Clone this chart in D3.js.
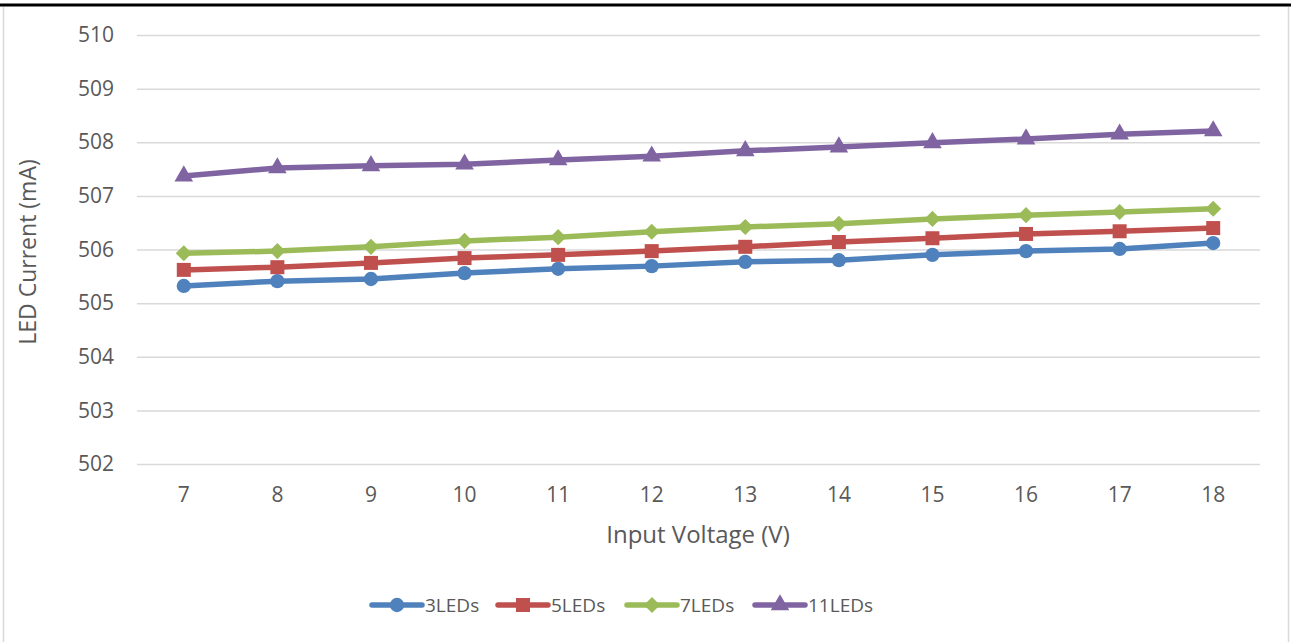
<!DOCTYPE html>
<html>
<head>
<meta charset="utf-8">
<script src="https://cdn.jsdelivr.net/npm/d3@7"></script>
<style>
  html, body { margin: 0; padding: 0; background: #fff; }
  svg { display: block; }
  text { font-family: "Open Sans", "Noto Sans", sans-serif; fill: #595959; }
</style>
</head>
<body>
<svg id="chart" width="1291" height="642"></svg>
<script>
// Input voltage categories (V)
const voltages = [7, 8, 9, 10, 11, 12, 13, 14, 15, 16, 17, 18];

// LED current (mA) per string length
const leds3  = [505.32, 505.41, 505.45, 505.56, 505.64, 505.69, 505.77, 505.80, 505.90, 505.97, 506.01, 506.12];
const leds5  = [505.62, 505.67, 505.75, 505.84, 505.90, 505.97, 506.05, 506.14, 506.21, 506.29, 506.34, 506.40];
const leds7  = [505.93, 505.97, 506.05, 506.16, 506.23, 506.33, 506.42, 506.48, 506.57, 506.64, 506.70, 506.76];
const leds11 = [507.37, 507.52, 507.56, 507.59, 507.67, 507.74, 507.84, 507.91, 507.99, 508.06, 508.15, 508.21];

const seriesNames = ["3LEDs", "5LEDs", "7LEDs", "11LEDs"];
const yTicks = [502, 503, 504, 505, 506, 507, 508, 509, 510];

// diamond drawn as a square turned 45 degrees (equal width and height)
const squareDiamond = {
  draw(context, size) {
    const r = Math.sqrt(size / 2);
    context.moveTo(0, -r);
    context.lineTo(r, 0);
    context.lineTo(0, r);
    context.lineTo(-r, 0);
    context.closePath();
  }
};

const series = [
  { name: seriesNames[0], values: leds3,  color: "#4f81bd", symbol: d3.symbolCircle,   size: 160 },
  { name: seriesNames[1], values: leds5,  color: "#c0504d", symbol: d3.symbolSquare,   size: 196 },
  { name: seriesNames[2], values: leds7,  color: "#9bbb59", symbol: squareDiamond,     size: 130 },
  { name: seriesNames[3], values: leds11, color: "#8064a2", symbol: d3.symbolTriangle, size: 150 }
];

const svg = d3.select("#chart");

// chart frame: heavy top rule, light side borders
svg.append("line").attr("x1", 0).attr("x2", 1291).attr("y1", 5).attr("y2", 5)
  .attr("stroke", "#000").attr("stroke-width", 3);
svg.append("line").attr("x1", 3.5).attr("x2", 3.5).attr("y1", 7).attr("y2", 642)
  .attr("stroke", "#d9d9d9").attr("stroke-width", 1.5);
svg.append("line").attr("x1", 1288.5).attr("x2", 1288.5).attr("y1", 7).attr("y2", 642)
  .attr("stroke", "#d9d9d9").attr("stroke-width", 1.5);

const plot = { left: 137, right: 1260, top: 35, bottom: 464 };

const x = d3.scaleBand().domain(voltages).range([plot.left, plot.right]).padding(0);
const y = d3.scaleLinear().domain([502, 510]).range([plot.bottom, plot.top]);
const cx = v => x(v) + x.bandwidth() / 2;

// horizontal gridlines and y tick labels
const yAxis = d3.axisLeft(y).tickValues(yTicks).tickSize(-(plot.right - plot.left)).tickPadding(23);
const gy = svg.append("g").attr("transform", `translate(${plot.left},0)`).call(yAxis);
gy.select(".domain").remove();
gy.selectAll(".tick line").attr("stroke", "#d9d9d9").attr("stroke-width", 1.5);
gy.selectAll(".tick text").attr("font-size", 21).attr("fill", "#595959")
  .style("font-family", '"Open Sans", sans-serif');

// x tick labels
const xAxis = d3.axisBottom(x).tickSize(0).tickPadding(23);
const gx = svg.append("g").attr("transform", `translate(0,${plot.bottom})`).call(xAxis);
gx.select(".domain").remove();
gx.selectAll(".tick text").attr("font-size", 21).attr("fill", "#595959")
  .style("font-family", '"Open Sans", sans-serif');

// axis titles
svg.append("text").attr("x", 698).attr("y", 543)
  .attr("text-anchor", "middle").attr("font-size", 24).text("Input Voltage (V)");
svg.append("text").attr("transform", "translate(36,252) rotate(-90)")
  .attr("text-anchor", "middle").attr("font-size", 23).text("LED Current (mA)");

// series lines and markers
const line = d3.line().x((d, i) => cx(voltages[i])).y(d => y(d));
series.forEach(s => {
  const g = svg.append("g");
  g.append("path").datum(s.values).attr("d", line)
    .attr("fill", "none").attr("stroke", s.color).attr("stroke-width", 5.5)
    .attr("stroke-linejoin", "round").attr("stroke-linecap", "round");
  g.selectAll("path.m").data(s.values).enter().append("path").attr("class", "m")
    .attr("d", d3.symbol().type(s.symbol).size(s.size))
    .attr("transform", (d, i) => `translate(${cx(voltages[i])},${y(d)})`)
    .attr("fill", s.color);
});

// legend
const legendX = [372, 498, 627, 755];
const legendY = 605;
series.forEach((s, i) => {
  const g = svg.append("g").attr("transform", `translate(${legendX[i]},${legendY})`);
  g.append("line").attr("x1", 0).attr("x2", 50).attr("y1", 0).attr("y2", 0)
    .attr("stroke", s.color).attr("stroke-width", 5.5).attr("stroke-linecap", "round");
  g.append("path").attr("d", d3.symbol().type(s.symbol).size(s.size))
    .attr("transform", "translate(25,0)").attr("fill", s.color);
  g.append("text").attr("x", 53).attr("y", 0).attr("dy", "0.36em")
    .attr("font-size", 19).text(s.name);
});
</script>
</body>
</html>
